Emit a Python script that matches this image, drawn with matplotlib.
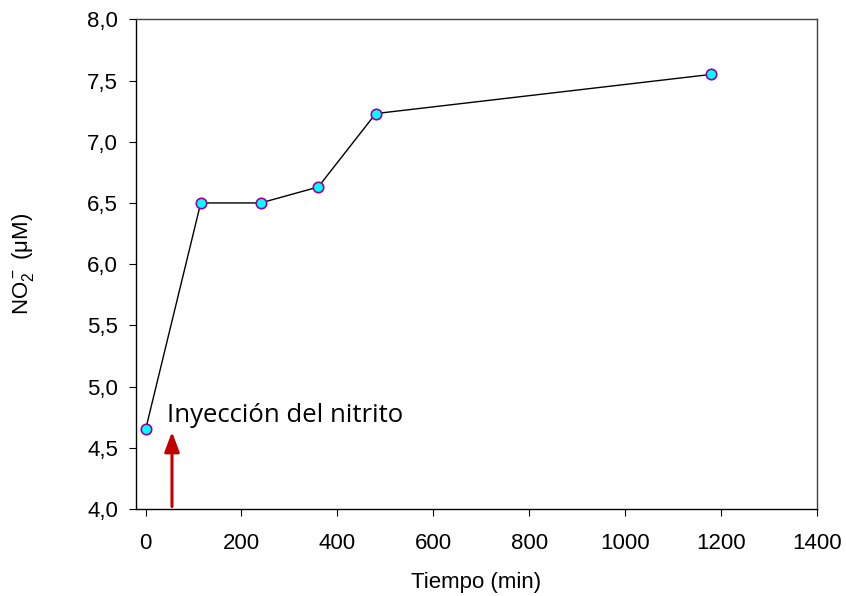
import matplotlib
matplotlib.use("Agg")
import matplotlib.pyplot as plt
from matplotlib.ticker import FuncFormatter

# Data
tiempo = [0, 115, 240, 360, 480, 1180]
nitrito = [4.65, 6.50, 6.50, 6.63, 7.23, 7.55]
x_ticks = [0, 200, 400, 600, 800, 1000, 1200, 1400]
y_ticks = [4.0, 4.5, 5.0, 5.5, 6.0, 6.5, 7.0, 7.5, 8.0]
inyeccion_t = 55
nota = "Inyección del nitrito"

plt.rcParams["font.family"] = ["Liberation Sans", "DejaVu Sans"]
plt.rcParams["mathtext.default"] = "regular"

fig = plt.figure(figsize=(8.46, 5.96), dpi=100)
ax = fig.add_axes([0.1608, 0.146, 0.8046, 0.8216])

ax.plot(tiempo, nitrito, color="black", lw=1.0, marker="o", ms=7.5,
        mfc="#00FFFF", mec="#990099", mew=1.2, zorder=3)

# arrow marking the nitrite injection
ax.annotate("", xy=(inyeccion_t, 4.63), xytext=(inyeccion_t, 4.02),
            arrowprops=dict(arrowstyle="-|>,head_length=1.2,head_width=0.45",
                            color="#C00000", lw=2.2, shrinkA=0, shrinkB=0))
ax.text(45, 4.71, nota, fontsize=18.5, family=["Open Sans", "DejaVu Sans"],
        ha="left", va="baseline")

ax.set_xlim(-20, 1400)
ax.set_ylim(4.0, 8.0)
ax.set_xticks(x_ticks)
ax.set_yticks(y_ticks)
ax.yaxis.set_major_formatter(FuncFormatter(lambda v, p: f"{v:.1f}".replace(".", ",")))
ax.tick_params(direction="out", length=5, labelsize=16)
ax.tick_params(axis="y", pad=8)
ax.tick_params(axis="x", pad=12)

for s in ax.spines.values():
    s.set_linewidth(1.0)
ax.spines["top"].set_color("#404040")
ax.spines["right"].set_color("#404040")

ax.set_xlabel("Tiempo (min)", fontsize=16, labelpad=13)
ax.set_ylabel("NO$_2^-$ (μM)", fontsize=16, labelpad=37)

fig.savefig("out.png", dpi=100)
